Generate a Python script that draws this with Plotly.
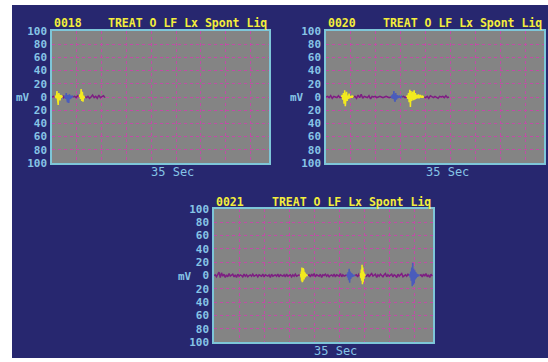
import plotly.graph_objects as go

# ---------------------------------------------------------------------------
# Recorded EMG traces (mV). Each record is a chain of segments:
# (channel, sample step in seconds, samples). "base" is the resting line,
# "burst_a" / "burst_b" are the two detected burst channels.
# ---------------------------------------------------------------------------
record_ids = ["0018", "0020", "0021"]
record_label = "TREAT O LF Lx Spont Liq"
x_title = "35 Sec"
y_title = "mV"
time_span = 35
y_ticks = [100, 80, 60, 40, 20, 0, -20, -40, -60, -80, -100]
y_tick_text = ["100", "80", "60", "40", "20", "0", "20", "40", "60", "80", "100"]
grid_seconds = [0, 4, 8, 12, 16, 20, 24, 28, 32]

rec_0018 = [
    ("base", 0.25, [0, 1, -1]),
    ("burst_a", 0.1, [2, -2, 9, -4, -12, 6, 2, -5, 3, -1, 1, 0]),
    ("base", 0.1, [1, -1, 0]),
    ("burst_b", 0.1, [2, -3, 6, -2, -8, 3, -9, 4, 1, -3, 2, -1, 1, 0]),
    ("base", 0.25, [1, -1, 2, 0]),
    ("burst_a", 0.1, [4, -3, 12, -6, 8, -7, 2, -1, 0]),
    ("base", 0.25, [-1, 1, -2, 0, 3, -1, 1, -2, 3, -1, 0, 2, -1]),
]

rec_0020 = [
    ("base", 0.25, [0, 1, -1, 2, -2, 1, 0, -1, 2, -1, 0]),
    ("burst_a", 0.1, [3, -4, 6, -10, 10, -14, 4, 8, -6, 2, -3, 5, -2, 1, -1, 2, -1, 1, 0]),
    ("base", 0.25, [1, -2, 3, -1, 4, -2, 1, 0, -1, 2, -3, 1, 0, 1, -1, 0, 1, 0, -1, 0, 1, 0, -1, 0]),
    ("burst_b", 0.1, [1, -2, 4, -3, 9, -5, -7, 6, -4, 3, -2, 2, -1, 1, 0, -1, 1, 0]),
    ("base", 0.25, [1, -1, 0]),
    ("burst_a", 0.1, [2, -3, 6, -8, 11, -15, 9, -6, 4, 8, -5, 10, -4, 6, -3, 3, 2, -2, 4, -2, 1, 3, -1, 2, -1, 1, 0, 0]),
    ("base", 0.25, [-1, 1, -2, 2, 0, -1, 1, 0, -2, 1, 0, 1, -1, 2, -1, 0]),
]

rec_0021 = [
    ("base", 0.2, [0, 1, -2, 2, 5, -3, 4, -1, 2, -3,
                   1, -2, 3, -1, 0, 2, -2, 1, -3, 2,
                   -1, 1, 0, -2, 2, -1, 1, -2, 0, 1,
                   -1, 2, -1, 0, 1, -2, 1, 0, -1, 2,
                   -2, 1, 0, -1, 1, -3, 2, -1, 0, 1,
                   -1, 2, -2, 1, 0, -1, 1, -2, 2, -1,
                   0, 1, -2, 1, -1, 2, -1, 0, 1, 0]),
    ("burst_a", 0.05, [2, -3, 6, -8, 12, -10, 9, -9, 11, -7, 8, -6,
                       5, -4, 3, -3, 2, -2, 1, -1, 1, 0, 0, 0]),
    ("base", 0.2, [1, -2, 2, -1, 3, -2, 1, 0, -1, 2,
                   -3, 1, 0, 2, -1, 1, -2, 0, 1, -1,
                   2, -2, 1, 0, -1, 3, -2, 1, -1, 0, 1]),
    ("burst_b", 0.08, [2, -3, 5, -7, 10, -11, 6, -5, 4, -3, 3, -2, 1, -1, 1, 0, 0]),
    ("base", 0.2, [1, -2, 2, 0]),
    ("burst_a", 0.06, [3, -4, 9, -8, 16, -13, 12, -10, 6, -5, 3, -1, 1, 0]),
    ("base", 0.2, [-1, 2, -2, 1, 3, -1, 0, 2, -3, 1,
                   -1, 2, 0, -2, 1, 3, -2, 1, -1, 0,
                   2, -2, 1, 0, -3, 2, -1, 1, 3, -2,
                   0, 1, -1, 2, 0]),
    ("burst_b", 0.08, [2, -3, 6, -8, 12, -16, 19, -14, 10, -12, 8, -6, 5, -4, 3, -2, 2, -1, 1, 0, 0]),
    ("base", 0.2, [1, -2, 2, -1, 3, -2, 1, -3, 2, -1]),
]

records = [rec_0018, rec_0020, rec_0021]

# ---------------------------------------------------------------------------
# Page geometry (pixels) and styling
# ---------------------------------------------------------------------------
W, H = 548, 362
# plot-area boxes: (left, right, top, bottom)
boxes = [(52, 269, 31, 163), (326, 544, 31, 163), (214, 433, 209, 342)]

NAVY = "#27276f"
PLOT_BG = "#848484"
GRID = "#c24ca6"
FRAME = "#7ec6d8"
TICK_TXT = "#86c4e6"
TITLE_TXT = "#f4ee3c"
FONT = "DejaVu Sans Mono"
channel_colors = {"base": "#7d1f82", "burst_a": "#f2ea1e", "burst_b": "#4a5cbc"}


def px(x):
    return x / W


def py(y):
    return 1 - y / H


fig = go.Figure()
annotations = []

for i, (rec, box) in enumerate(zip(records, boxes)):
    left, right, top, bottom = box
    n = "" if i == 0 else str(i + 1)
    xa, ya = "x" + n, "y" + n

    # chain the segments into continuous per-channel polylines
    per_channel = {k: ([], []) for k in channel_colors}
    t_last, v_last = None, None
    for channel, step, samples in rec:
        xs, ys = per_channel[channel]
        if t_last is None:
            t0 = 0.0
        else:
            t0 = t_last + step
            xs.append(t_last)
            ys.append(v_last)
        for k, v in enumerate(samples):
            xs.append(t0 + k * step)
            ys.append(v)
        t_last, v_last = xs[-1], ys[-1]
        xs.append(None)
        ys.append(None)

    for channel in ["base", "burst_b", "burst_a"]:
        xs, ys = per_channel[channel]
        fig.add_trace(go.Scatter(
            x=xs, y=ys, mode="lines", xaxis=xa, yaxis=ya,
            line=dict(color=channel_colors[channel], width=1.5),
            connectgaps=False, showlegend=False, hoverinfo="skip",
        ))

    fig.layout["xaxis" + n] = dict(
        domain=[px(left), px(right)], anchor=ya, range=[0, time_span],
        tickvals=grid_seconds, showticklabels=False, ticks="",
        showgrid=True, gridcolor=GRID, griddash="dot", gridwidth=1,
        zeroline=False, showline=True, linecolor=FRAME, linewidth=1.5,
        mirror=True, fixedrange=True, automargin=False,
    )
    fig.layout["yaxis" + n] = dict(
        domain=[py(bottom), py(top)], anchor=xa, range=[-100, 100],
        tickvals=y_ticks, ticktext=y_tick_text, ticks="",
        ticklabelstandoff=1,
        tickfont=dict(family=FONT, size=11, color=TICK_TXT, weight="bold"),
        showgrid=True, gridcolor=GRID, griddash="dot", gridwidth=1,
        zeroline=False, showline=True, linecolor=FRAME, linewidth=1.5,
        mirror=True, fixedrange=True, automargin=False,
    )

    title_font = dict(family=FONT, size=11.5, color=TITLE_TXT, weight="bold")
    annotations.append(dict(
        text=record_ids[i], x=px(left), y=py(top + 1.5), xref="paper", yref="paper",
        xanchor="left", yanchor="bottom", showarrow=False, font=title_font,
    ))
    annotations.append(dict(
        text=record_label, x=px(right), y=py(top + 1.5), xref="paper", yref="paper",
        xanchor="right", yanchor="bottom", showarrow=False, font=title_font,
    ))
    annotations.append(dict(
        text=y_title, x=px(left - 29), y=py((top + bottom) / 2 + 1),
        xref="paper", yref="paper", xanchor="center", yanchor="middle",
        showarrow=False, font=dict(family=FONT, size=11, color=TICK_TXT, weight="bold"),
    ))
    annotations.append(dict(
        text=x_title, x=px((left + right) / 2 + 12), y=py(bottom + 9),
        xref="paper", yref="paper", xanchor="center", yanchor="middle",
        showarrow=False, font=dict(family=FONT, size=12, color=TICK_TXT),
    ))

# white page margins around the navy panel
strips = [(0, 12, 0, H), (0, W, 0, 5), (0, W, 358, H)]
shapes = [
    dict(type="rect", xref="paper", yref="paper", x0=px(a), x1=px(b), y0=py(d), y1=py(c),
         fillcolor="white", line=dict(width=0), layer="below")
    for a, b, c, d in strips
]

fig.update_layout(
    width=W, height=H, autosize=False,
    margin=dict(l=0, r=0, t=0, b=0, pad=0, autoexpand=False),
    paper_bgcolor=NAVY, plot_bgcolor=PLOT_BG,
    annotations=annotations, shapes=shapes, showlegend=False,
)

fig.write_html("out.html")
